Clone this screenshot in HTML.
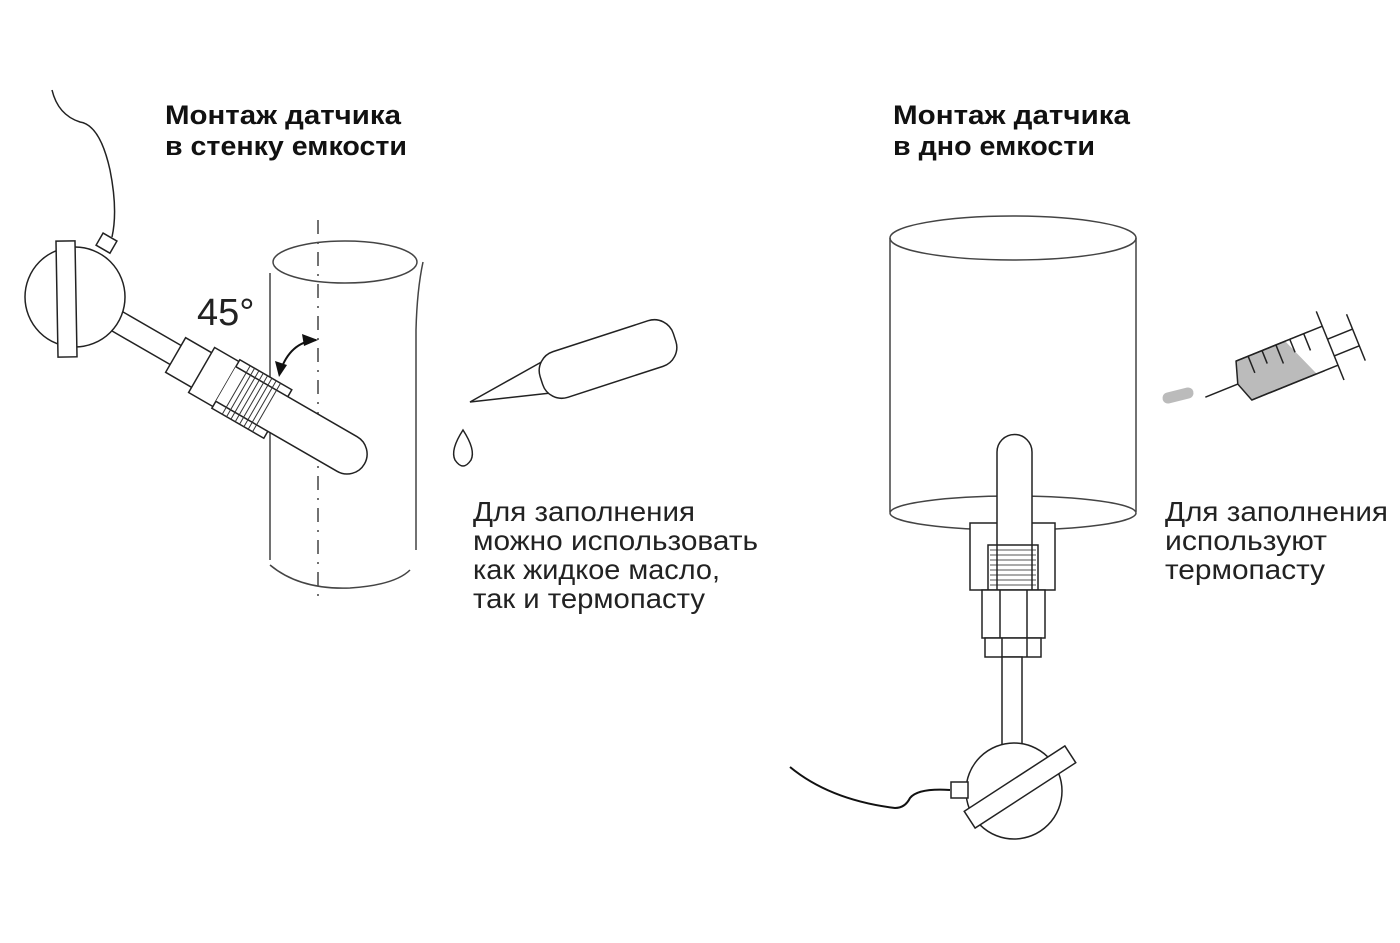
<!DOCTYPE html>
<html><head><meta charset="utf-8"><style>
html,body{margin:0;padding:0;background:#fff;}
svg{display:block;}
.t{font-family:"Liberation Sans",sans-serif;}
</style></head><body>
<svg width="1400" height="943" viewBox="0 0 1400 943" xmlns="http://www.w3.org/2000/svg">
<g class="t" font-weight="bold" font-size="27" fill="#111">
<text x="165" y="124" textLength="236" lengthAdjust="spacingAndGlyphs">Монтаж датчика</text>
<text x="165" y="155" textLength="242" lengthAdjust="spacingAndGlyphs">в стенку емкости</text>
<text x="893" y="124" textLength="237" lengthAdjust="spacingAndGlyphs">Монтаж датчика</text>
<text x="893" y="155" textLength="202" lengthAdjust="spacingAndGlyphs">в дно емкости</text>
</g>
<g class="t" font-size="28" fill="#222">
<text x="473" y="521" textLength="222" lengthAdjust="spacingAndGlyphs">Для заполнения</text>
<text x="473" y="550" textLength="285" lengthAdjust="spacingAndGlyphs">можно использовать</text>
<text x="473" y="579" textLength="247" lengthAdjust="spacingAndGlyphs">как жидкое масло,</text>
<text x="473" y="608" textLength="232" lengthAdjust="spacingAndGlyphs">так и термопасту</text>
<text x="1165" y="521" textLength="223" lengthAdjust="spacingAndGlyphs">Для заполнения</text>
<text x="1165" y="550" textLength="162" lengthAdjust="spacingAndGlyphs">используют</text>
<text x="1165" y="579" textLength="160" lengthAdjust="spacingAndGlyphs">термопасту</text>
<text x="197" y="325" font-size="38">45°</text>
</g>
<g fill="none" stroke="#444" stroke-width="1.5">
<ellipse cx="345" cy="262" rx="72" ry="21"/>
<line x1="270" y1="273" x2="270" y2="560"/>
<path d="M423 262 Q417 290 416 330 L416 550"/>
<path d="M270 565 Q300 590 350 588 Q395 585 410 570"/>
<line x1="318" y1="220" x2="318" y2="600" stroke-dasharray="14,8,2,8"/>
</g>
<path d="M52 90 Q58 115 80 122 Q100 125 110 170 Q118 210 112 237" fill="none" stroke="#222" stroke-width="1.5"/>
<g transform="translate(115,320) rotate(30)" stroke="#222" stroke-width="1.5" fill="#fff">
<rect x="0" y="-11" width="80" height="22"/>
<rect x="70" y="-20" width="32" height="40"/>
<rect x="100" y="-26" width="32" height="52"/>
<rect x="128" y="-28" width="60" height="56"/>
<path d="M128 -20 L268 -20 A20 20 0 0 1 268 20 L128 20" />
<g stroke="#333" stroke-width="1">
<line x1="140" y1="-28" x2="140" y2="28"/><line x1="145" y1="-28" x2="145" y2="28"/><line x1="150" y1="-28" x2="150" y2="28"/><line x1="155" y1="-28" x2="155" y2="28"/><line x1="160" y1="-28" x2="160" y2="28"/><line x1="165" y1="-28" x2="165" y2="28"/><line x1="170" y1="-28" x2="170" y2="28"/><line x1="175" y1="-28" x2="175" y2="28"/>
</g>
</g>
<circle cx="75" cy="297" r="50" fill="#fff" stroke="#222" stroke-width="1.5"/>
<rect x="57" y="241" width="19" height="116" fill="#fff" stroke="#222" stroke-width="1.5" transform="rotate(-1 66 299)"/>
<rect x="98" y="236" width="16" height="14" fill="#fff" stroke="#222" stroke-width="1.5" transform="rotate(30 106 244)"/>
<path d="M316 340 Q290 342 280 372" fill="none" stroke="#111" stroke-width="2"/>
<polygon points="318,340 302,334 304,346" fill="#111"/>
<polygon points="279,377 275,361 287,365" fill="#111"/>
<g stroke="#222" stroke-width="1.5" fill="#fff">
<polygon points="470,402 545,360 560,392"/>
<rect x="538" y="335" width="140" height="48" rx="20" transform="rotate(-18 608 359)"/>
</g>
<path d="M463 430 Q450 450 455 460 Q463 472 471 460 Q476 450 463 430Z" fill="#fff" stroke="#222" stroke-width="1.5"/>
<g fill="none" stroke="#444" stroke-width="1.5">
<ellipse cx="1013" cy="238" rx="123" ry="22"/>
<line x1="890" y1="238" x2="890" y2="512"/>
<line x1="1136" y1="238" x2="1136" y2="512"/>
<ellipse cx="1013" cy="513" rx="123" ry="17"/>
</g>
<g stroke="#222" stroke-width="1.5" fill="#fff">
<rect x="970" y="523" width="85" height="67"/>
<path d="M997 590 L997 452 A17.5 17.5 0 0 1 1032 452 L1032 590" />
<rect x="988" y="545" width="50" height="45"/>
<g stroke="#555" stroke-width="1"><line x1="990" y1="550" x2="1036" y2="550"/><line x1="990" y1="555" x2="1036" y2="555"/><line x1="990" y1="560" x2="1036" y2="560"/><line x1="990" y1="565" x2="1036" y2="565"/><line x1="990" y1="570" x2="1036" y2="570"/><line x1="990" y1="575" x2="1036" y2="575"/><line x1="990" y1="580" x2="1036" y2="580"/><line x1="990" y1="585" x2="1036" y2="585"/></g>
<line x1="997" y1="545" x2="997" y2="590"/><line x1="1032" y1="545" x2="1032" y2="590"/>
<rect x="982" y="590" width="63" height="48"/>
<line x1="1000" y1="590" x2="1000" y2="638"/><line x1="1027" y1="590" x2="1027" y2="638"/>
<rect x="985" y="638" width="56" height="19"/>
<line x1="1002" y1="638" x2="1002" y2="657"/><line x1="1027" y1="638" x2="1027" y2="657"/>
<rect x="1002" y="657" width="20" height="88"/>
<circle cx="1014" cy="791" r="48"/>
<rect x="951" y="782" width="17" height="16"/>
<rect x="960" y="777" width="120" height="20" transform="rotate(-33 1020 787)"/>
</g>
<path d="M790 767 Q830 800 895 808 Q905 808 910 798 Q918 788 950 790" fill="none" stroke="#111" stroke-width="2"/>
<g transform="translate(1265,358) rotate(-22)" stroke="#222" stroke-width="1.5">
<line x1="-70" y1="14" x2="-35" y2="14"/>
<path d="M-35 14 L-28 -8 L50 -8 L50 34 L-28 34 Z" fill="#bbb"/>
<path d="M25 -8 L62 -8 L62 34 L42 34 Z" fill="#fff" stroke="none"/>
<path d="M-28 -8 L65 -8 M-28 34 L65 34" fill="none"/>
<line x1="65" y1="-24" x2="65" y2="50"/>
<line x1="65" y1="6" x2="92" y2="6"/><line x1="65" y1="24" x2="92" y2="24"/>
<line x1="92" y1="-10" x2="92" y2="40"/>
<g stroke-width="1.5"><line x1="-15" y1="-8" x2="-15" y2="10"/><line x1="0" y1="-8" x2="0" y2="6"/><line x1="15" y1="-8" x2="15" y2="12"/><line x1="30" y1="-8" x2="30" y2="6"/><line x1="45" y1="-8" x2="45" y2="10"/></g>
</g>
<path d="M1168 398 L1188 393" stroke="#bbb" stroke-width="11" stroke-linecap="round"/>
</svg>
</body></html>
